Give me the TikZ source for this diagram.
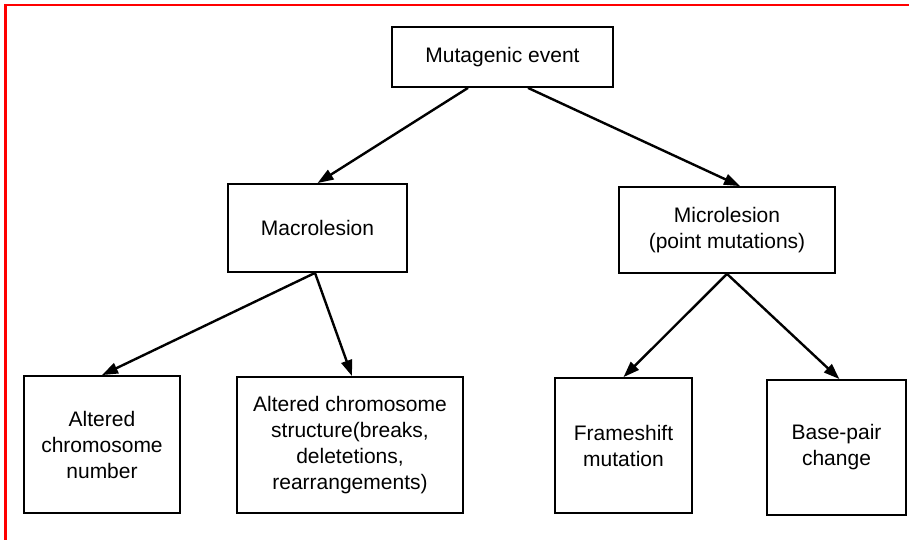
\documentclass[tikz,border=0pt]{standalone}
\usepackage{fontspec}
\setmainfont{Liberation Sans}
\usetikzlibrary{arrows.meta}

\begin{document}
\begin{tikzpicture}[
    x=1pt, y=-1pt,
    eventbox/.style = {rectangle, draw=black, line width=1.8pt, inner sep=0pt, align=center, font=\fontsize{21}{26}\selectfont},
    link/.style = {-{Triangle[length=16pt, width=11pt]}, line width=2.4pt}
]

\useasboundingbox (0,0) rectangle (909,540);
\draw[red, line width=2.2pt] (5.5,540) -- (5.5,5) -- (909,5);

\node [eventbox, minimum width=221pt, minimum height=60pt] (event) at (502.5,57) {Mutagenic event};
\node [eventbox, minimum width=179pt, minimum height=88pt] (macro) at (317.5,228) {Macrolesion};
\node [eventbox, minimum width=216pt, minimum height=86pt] (micro) at (727,230) {Microlesion\\(point mutations)};

\node [eventbox, minimum width=156pt, minimum height=137pt] (number) at (102,444.5) {Altered\\chromosome\\number};
\node [eventbox, minimum width=226pt, minimum height=136pt] (struct) at (350,445) {Altered chromosome\\structure(breaks,\\deletetions,\\rearrangements)};
\node [eventbox, minimum width=137pt, minimum height=135pt] (frame) at (623.5,445.5) {Frameshift\\mutation};
\node [eventbox, minimum width=139pt, minimum height=135pt] (base) at (836.5,447.5) {Base-pair\\change};

\draw [link] ([xshift=-34.5pt]event.south) -- (macro.north);
\draw [link] ([xshift=25.5pt]event.south) -- ([xshift=13pt]micro.north);
\draw [link] ([xshift=-2.5pt]macro.south) -- (number.north);
\draw [link] ([xshift=-2.5pt]macro.south) -- ([xshift=2pt]struct.north);
\draw [link] (micro.south) -- (frame.north);
\draw [link] (micro.south) -- ([xshift=3pt]base.north);

\end{tikzpicture}
\end{document}
